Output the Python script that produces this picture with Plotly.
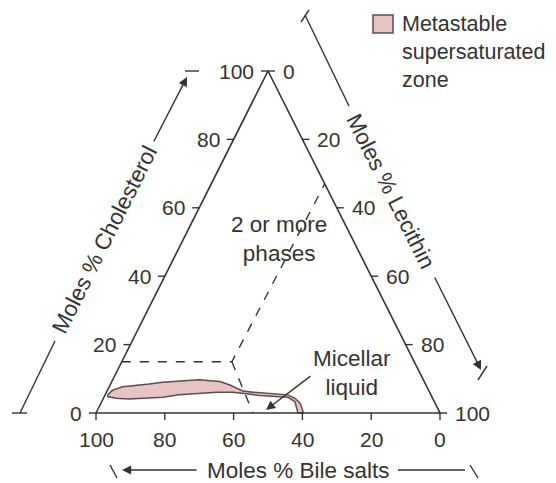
import plotly.graph_objects as go

# ---------------- data (moles %) ----------------
tick_values = [0, 20, 40, 60, 80, 100]

# metastable supersaturated zone outline: bile salts % and cholesterol % (lecithin = rest)
zone_bile = [94.0, 91.8, 88.4, 84.4, 80.3, 76.1, 72.2, 68.3, 65.2, 62.1, 59.4, 57.0, 55.5,
             54.1, 51.3, 47.5, 43.8, 41.6, 40.0, 39.2, 39.6, 39.8,
             41.3, 40.5, 41.9, 45.1, 49.8, 53.4, 57.2, 61.9, 66.9, 73.2, 78.3, 83.3,
             88.4, 92.0, 94.2, 94.0]
zone_chol = [5.3, 6.7, 7.7, 8.0, 8.5, 9.0, 9.2, 9.4, 9.7, 9.4, 9.2, 8.2, 7.2,
             6.4, 6.1, 5.8, 5.5, 5.3, 4.3, 2.9, 0.4, 0.0,
             0.0, 3.3, 4.6, 4.8, 5.1, 5.6, 6.1, 6.1, 5.8, 5.3, 4.6, 4.3,
             4.1, 4.3, 4.8, 5.3]

# "2 or more phases" boundary (dashed): bile salts %, cholesterol %
phase_bile_a = [85.0, 53.0, 0.0]
phase_chol_a = [15.0, 15.0, 67.0]
phase_bile_b = [53.0, 54.4]
phase_chol_b = [15.0, 0.0]

# ---------------- geometry ----------------
OFF = 8               # page body margin of the browser
W, H = 556 - OFF, 483 - OFF
X0, X1 = 96 - OFF, 440 - OFF      # pixel x of bottom-left / bottom-right corners
Y0, Y1 = 413 - OFF, 71 - OFF      # pixel y of base / apex
SX = (X1 - X0) / 100.0
SY = (Y0 - Y1) / 100.0
TXT = "#333333"
LINE = "#333333"
PINK = "#e6c4c4"
EDGE = "#5e4c4c"
FONT = "Arial, Liberation Sans, sans-serif"
FS = 21      # tick labels
FT = 22.5    # other texts


def tern(chol, bile):
    """cholesterol %, bile salts % -> cartesian (lecithin is the remainder)."""
    lec = 100.0 - chol - bile
    return lec + chol / 2.0, chol


def txy(chols, biles):
    pts = [tern(c, b) for c, b in zip(chols, biles)]
    return [p[0] for p in pts], [p[1] for p in pts]


def P(px, py):
    """window pixel -> paper coordinates"""
    return (px - OFF) / W, 1 - (py - OFF) / H


fig = go.Figure()

# pink zone
zx, zy = txy(zone_chol, zone_bile)
fig.add_trace(go.Scatter(x=zx, y=zy, mode="lines", fill="toself", fillcolor=PINK,
                         line=dict(color=EDGE, width=1.5), name="Metastable supersaturated zone",
                         showlegend=False, hoverinfo="skip"))

# dashed phase boundaries
for cb, bb in [(phase_chol_a, phase_bile_a), (phase_chol_b, phase_bile_b)]:
    dx, dy = txy(cb, bb)
    fig.add_trace(go.Scatter(x=dx, y=dy, mode="lines", line=dict(color=LINE, width=1.4, dash="dash"),
                             showlegend=False, hoverinfo="skip"))

# triangle edges
ex, ey = txy([0, 100, 0, 0], [100, 0, 0, 100])
fig.add_trace(go.Scatter(x=ex, y=ey, mode="lines", line=dict(color=LINE, width=1.6),
                         showlegend=False, hoverinfo="skip"))

# tick marks
TL = 7.0
tx, ty = [], []
for v in tick_values:
    x, y = tern(v, 100 - v)
    tx += [x, x - TL / SX, None]; ty += [y, y, None]
    x, y = tern(100 - v, 0)
    tx += [x, x + TL / SX, None]; ty += [y, y, None]
    x, y = tern(0, v)
    tx += [x, x, None]; ty += [y, y - TL / SY, None]
fig.add_trace(go.Scatter(x=tx, y=ty, mode="lines", line=dict(color=LINE, width=1.4),
                         showlegend=False, hoverinfo="skip"))

ann = []
tf = dict(size=FS)
for v in tick_values:
    x, y = tern(v, 100 - v)
    ann.append(dict(x=x, y=y, xref="x", yref="y", text=str(v), showarrow=False, font=tf,
                    xanchor="right", yanchor="middle", xshift=-12))
    x, y = tern(100 - v, 0)
    ann.append(dict(x=x, y=y, xref="x", yref="y", text=str(v), showarrow=False, font=tf,
                    xanchor="left", yanchor="middle", xshift=13))
    x, y = tern(0, v)
    ann.append(dict(x=x, y=y, xref="x", yref="y", text=str(v), showarrow=False, font=tf,
                    xanchor="center", yanchor="middle", yshift=-26))

# region labels
for txt, (px, py) in [("2 or more<br>phases", (279, 239)), ("Micellar<br>liquid", (352, 373))]:
    x, y = P(px, py)
    ann.append(dict(x=x, y=y, xref="paper", yref="paper", text=txt, showarrow=False,
                    xanchor="center", yanchor="middle"))

# micellar arrow
x, y = P(266, 410)
ann.append(dict(x=x, y=y, xref="paper", yref="paper", text="", showarrow=True,
                ax=46, ay=-35, arrowhead=2, arrowsize=1.3, arrowwidth=1.4, arrowcolor=LINE))

# axis titles
x, y = P(298, 470)
ann.append(dict(x=x, y=y, xref="paper", yref="paper", text="Moles % Bile salts", showarrow=False,
                xanchor="center", yanchor="middle"))
x, y = P(105, 240)
ann.append(dict(x=x, y=y, xref="paper", yref="paper", text="Moles % Cholesterol", showarrow=False,
                xanchor="center", yanchor="middle", textangle=-63.3))
x, y = P(391, 191)
ann.append(dict(x=x, y=y, xref="paper", yref="paper", text="Moles % Lecithin", showarrow=False,
                xanchor="center", yanchor="middle", textangle=63.3))

# title arrows
for (hx, hy), (axp, ayp) in [((122, 470), (76, 0)), ((187, 77), (-34, 66)), ((481, 370), (-47, -94))]:
    x, y = P(hx, hy)
    ann.append(dict(x=x, y=y, xref="paper", yref="paper", text="", showarrow=True,
                    ax=axp, ay=ayp, arrowhead=2, arrowsize=1.3, arrowwidth=1.4, arrowcolor=LINE))

# legend text
x, y = P(400, 52)
ann.append(dict(x=x, y=y, xref="paper", yref="paper", text="Metastable<br>supersaturated<br>zone",
                showarrow=False, xanchor="left", yanchor="middle", align="left",
                font=dict(size=21.5)))

shapes = []


def seg(a, b, w=1.4):
    x0, y0 = P(*a); x1, y1 = P(*b)
    shapes.append(dict(type="line", xref="paper", yref="paper", x0=x0, y0=y0, x1=x1, y1=y1,
                       line=dict(color=LINE, width=w)))


# bottom title decorations
seg((110, 465), (117, 478))
seg((398, 470), (465, 470))
seg((470, 465), (478, 478))
# left title decorations
seg((20, 413), (55, 341))
seg((12, 413), (27, 413))
seg((185, 71), (199, 71))
# right title decorations
seg((305, 15), (349, 106))
seg((301, 22), (309, 10))
seg((478, 380), (487, 366))

# legend swatch
lx0, ly0 = P(373, 15); lx1, ly1 = P(393, 33)
shapes.append(dict(type="rect", xref="paper", yref="paper", x0=lx0, y0=ly0, x1=lx1, y1=ly1,
                   fillcolor=PINK, line=dict(color=EDGE, width=1.5)))

fig.update_layout(
    width=W, height=H, margin=dict(l=0, r=0, t=0, b=0), autosize=False,
    paper_bgcolor="white", plot_bgcolor="white",
    font=dict(family=FONT, size=FT, color=TXT),
    xaxis=dict(range=[(0 - X0) / SX, (W - X0) / SX], visible=False, fixedrange=True),
    yaxis=dict(range=[(Y0 - H) / SY, Y0 / SY], visible=False, fixedrange=True),
    annotations=ann, shapes=shapes, showlegend=False,
)

fig.write_html("out.html")
